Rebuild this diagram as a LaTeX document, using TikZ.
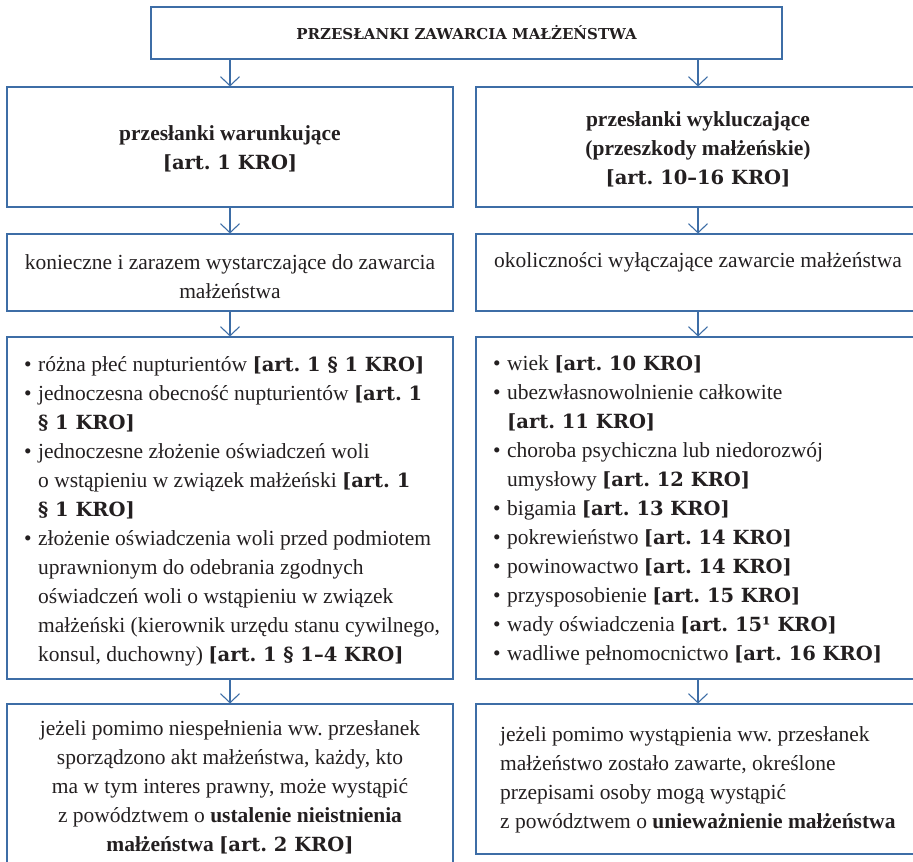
\documentclass[tikz,border=0pt]{standalone}
\usepackage{fontspec}
\setmainfont{Liberation Serif}
\newfontfamily\artfont{DejaVu Serif Bold}
\usetikzlibrary{arrows.meta}
\definecolor{frame}{HTML}{3D6DA6}
\definecolor{ink}{HTML}{231F20}
\newcommand\art[1]{{\artfont\fontsize{19.5}{29}\selectfont #1}}
\newcommand\bul{\makebox[14pt][l]{•}}
\frenchspacing
\begin{document}
\frenchspacing
\begin{tikzpicture}[x=1pt,y=-1pt,
  boxnode/.style={draw=frame, line width=1.1pt, inner sep=0pt, rectangle},
  txt/.style={text=ink, inner sep=0pt, font=\fontsize{21.5}{29}\selectfont\frenchspacing},
  arr/.style={draw=frame, line width=1.1pt, -{Straight Barb[length=9pt,width=19pt]}}]
\useasboundingbox (0,0) rectangle (913,862);
\clip (0,0) rectangle (913,862);
% boxes
\node[boxnode, minimum width=631pt, minimum height=52pt] (title) at (466.5,33) {};
\node[boxnode, minimum width=446pt, minimum height=120pt] (b2l) at (230,147) {};
\node[boxnode, minimum width=444pt, minimum height=120pt] (b2r) at (698,147) {};
\node[boxnode, minimum width=446pt, minimum height=77pt] (b3l) at (230,272.5) {};
\node[boxnode, minimum width=444pt, minimum height=77pt] (b3r) at (698,272.5) {};
\node[boxnode, minimum width=446pt, minimum height=342pt] (b4l) at (230,508) {};
\node[boxnode, minimum width=444pt, minimum height=342pt] (b4r) at (698,508) {};
\node[boxnode, minimum width=446pt, minimum height=165pt] (b5l) at (230,786.5) {};
\node[boxnode, minimum width=444pt, minimum height=150pt] (b5r) at (698,779) {};
% texts
\node[txt, font=\artfont\fontsize{15}{18}\selectfont] (titletxt) at (466.5,33) {PRZESŁANKI ZAWARCIA MAŁŻEŃSTWA};
\node[txt, align=center] (t2l) at (230,149) {\textbf{przesłanki warunkujące}\\\art{[art. 1 KRO]}};
\node[txt, align=center] (t2r) at (698,149) {\textbf{przesłanki wykluczające}\\\textbf{(przeszkody małżeńskie)}\\\art{[art. 10–16 KRO]}};
\node[txt, align=center] (t3l) at (230,276.5) {konieczne i zarazem wystarczające do zawarcia\\małżeństwa};
\node[txt] (t3r) at (698,262) {okoliczności wyłączające zawarcie małżeństwa};
\node[txt, anchor=west] (t4l) at (24,511) {\begin{tabular}{@{}l@{}l@{}}
\bul & różna płeć nupturientów \art{[art. 1 § 1 KRO]}\\
\bul & jednoczesna obecność nupturientów \art{[art. 1}\\
 & \art{§ 1 KRO]}\\
\bul & jednoczesne złożenie oświadczeń woli\\
 & o wstąpieniu w związek małżeński \art{[art. 1}\\
 & \art{§ 1 KRO]}\\
\bul & złożenie oświadczenia woli przed podmiotem\\
 & uprawnionym do odebrania zgodnych\\
 & oświadczeń woli o wstąpieniu w związek\\
 & małżeński (kierownik urzędu stanu cywilnego,\\
 & konsul, duchowny) \art{[art. 1 § 1–4 KRO]}
\end{tabular}};
\node[txt, anchor=west] (t4r) at (493,510) {\begin{tabular}{@{}l@{}l@{}}
\bul & wiek \art{[art. 10 KRO]}\\
\bul & ubezwłasnowolnienie całkowite\\
 & \art{[art. 11 KRO]}\\
\bul & choroba psychiczna lub niedorozwój\\
 & umysłowy \art{[art. 12 KRO]}\\
\bul & bigamia \art{[art. 13 KRO]}\\
\bul & pokrewieństwo \art{[art. 14 KRO]}\\
\bul & powinowactwo \art{[art. 14 KRO]}\\
\bul & przysposobienie \art{[art. 15 KRO]}\\
\bul & wady oświadczenia \art{[art. 15¹ KRO]}\\
\bul & wadliwe pełnomocnictwo \art{[art. 16 KRO]}
\end{tabular}};
\node[txt, align=center] (t5l) at (230,787) {jeżeli pomimo niespełnienia ww. przesłanek\\sporządzono akt małżeństwa, każdy, kto\\ma w tym interes prawny, może wystąpić\\z powództwem o \textbf{ustalenie nieistnienia}\\\textbf{małżeństwa} \art{[art. 2 KRO]}};
\node[txt, align=left, anchor=west] (t5r) at (500,780) {jeżeli pomimo wystąpienia ww. przesłanek\\małżeństwo zostało zawarte, określone\\przepisami osoby mogą wystąpić\\z powództwem o \textbf{unieważnienie małżeństwa}};
% connectors
\draw[arr] (title.south -| b2l.north) -- (b2l.north);
\draw[arr] (title.south -| b2r.north) -- (b2r.north);
\draw[arr] (b2l.south) -- (b3l.north);
\draw[arr] (b2r.south) -- (b3r.north);
\draw[arr] (b3l.south) -- (b4l.north);
\draw[arr] (b3r.south) -- (b4r.north);
\draw[arr] (b4l.south) -- (b5l.north);
\draw[arr] (b4r.south) -- (b5r.north);
\end{tikzpicture}
\end{document}
